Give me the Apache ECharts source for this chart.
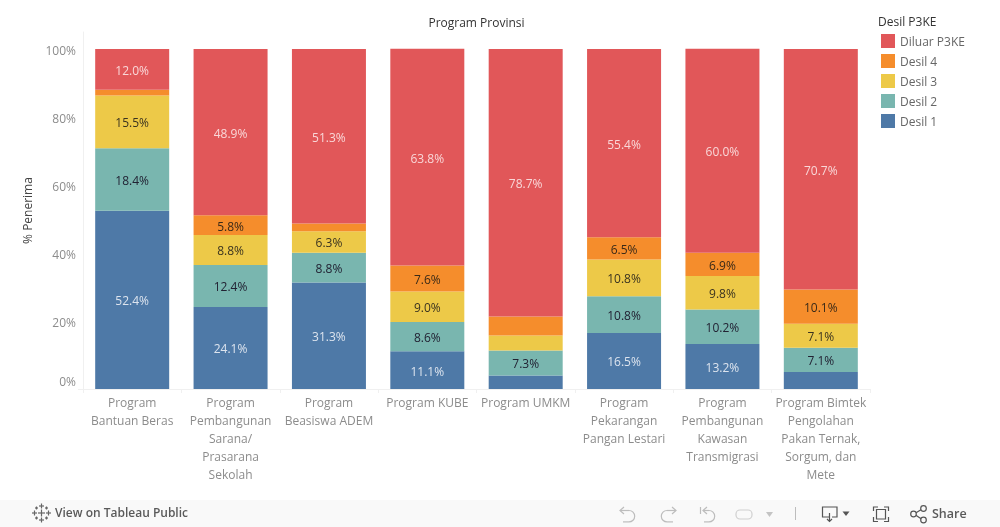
<!DOCTYPE html>
<html>
<head>
<meta charset="utf-8">
<style>html,body{margin:0;padding:0;background:#fff}#c{width:1000px;height:527px}</style>
<script src="https://cdn.jsdelivr.net/npm/echarts@6/dist/echarts.min.js"></script>
</head>
<body>
<div id="c"></div>
<script>
const categories = ['Program\nBantuan Beras','Program\nPembangunan\nSarana/\nPrasarana\nSekolah','Program\nBeasiswa ADEM','Program KUBE','Program UMKM','Program\nPekarangan\nPangan Lestari','Program\nPembangunan\nKawasan\nTransmigrasi','Program Bimtek\nPengolahan\nPakan Ternak,\nSorgum, dan\nMete'];
const desil1 = [52.4,24.1,31.3,11.1,4.0,16.5,13.2,5.0];
const desil2 = [18.4,12.4,8.8,8.6,7.3,10.8,10.2,7.1];
const desil3 = [15.5,8.8,6.3,9.0,4.4,10.8,9.8,7.1];
const desil4 = [1.7,5.8,2.3,7.6,5.6,6.5,6.9,10.1];
const diluar = [12.0,48.9,51.3,63.8,78.7,55.4,60.0,70.7];
const unlabeledDesil1 = [4,7];
const unlabeledDesil3 = [4];
const unlabeledDesil4 = [0,2,4];
const legendOrder = ['Diluar P3KE','Desil 4','Desil 3','Desil 2','Desil 1'];
const FONT = 'Open Sans';
const chart = echarts.init(document.getElementById('c'), null, {renderer:'canvas'});

function series(name, values, color, labelColor, hidden){
  return {
    name, type:'bar', stack:'t', barWidth:74, itemStyle:{color},
    data: values.map((v,i)=>({value:v, label:{show:!(hidden||[]).includes(i)}})),
    label:{show:true, position:'inside', color:labelColor, fontFamily:FONT, fontSize:12, offset:[0,2],
      formatter:p=>p.value.toFixed(1)+'%'}
  };
}
const gray='#bdbdbd';
const line=(pts,c,w)=>({type:'polyline',silent:true,shape:{points:pts},style:{stroke:c||gray,lineWidth:w||1.2,fill:null}});
const arc=(cx,cy,r,a,b,c)=>({type:'arc',silent:true,shape:{cx,cy,r,startAngle:a,endAngle:b,clockwise:true},style:{stroke:c||gray,lineWidth:1.2,fill:null}});
const tri=(x,y,w,h,c)=>({type:'polygon',silent:true,shape:{points:[[x,y],[x+w,y],[x+w/2,y+h]]},style:{fill:c}});
const cross=(x,y,s,c)=>[line([[x-s,y],[x+s,y]],c,1.2),line([[x,y-s],[x,y+s]],c,1.2)];
const dark='#666';
const PI=Math.PI;
const footer=[
  {type:'rect',silent:true,shape:{x:0,y:500,width:1000,height:27},style:{fill:'#f9f9f9'}},
  ...cross(41.5,513,3.5,dark),...cross(41.5,506,2.5,dark),...cross(41.5,520,2.5,dark),
  ...cross(34.5,513,2.5,dark),...cross(48.5,513,2.5,dark),
  ...cross(36.5,508,1.5,dark),...cross(46.5,508,1.5,dark),...cross(36.5,518,1.5,dark),...cross(46.5,518,1.5,dark),
  {type:'text',silent:true,style:{x:55,y:514,text:'View on Tableau Public',fill:'#5a5a5a',font:'600 12px "Open Sans"',textVerticalAlign:'middle'}},
  // undo
  line([[624,507],[620,510.5],[624,514]]),line([[620,510.5],[629,510.5]]),arc(629,516.2,5.7,-PI/2,PI/2),line([[629,521.9],[623,521.9]]),
  // redo
  line([[672,507],[676,510.5],[672,514]]),line([[676,510.5],[667,510.5]]),arc(667,516.2,5.7,PI/2,-PI/2),line([[667,521.9],[673,521.9]]),
  // revert
  line([[700.5,507],[700.5,514]]),line([[707,507],[703,510.5],[707,514]]),line([[703,510.5],[709,510.5]]),arc(709,516.2,5.7,-PI/2,PI/2),line([[709,521.9],[704,521.9]]),
  // refresh
  {type:'rect',silent:true,shape:{x:736,y:510,width:16,height:9,r:4},style:{stroke:'#d0d0d0',lineWidth:1.2,fill:null}},
  tri(766,512,7,5,'#c4c4c4'),
  line([[795.5,507],[795.5,520]],'#bdbdbd',1),
  // download
  line([[829,517],[822.5,517],[822.5,507],[837,507],[837,517],[832,517]],'#555'),line([[829.5,513],[829.5,521]],'#555'),line([[827,519],[829.5,521.5],[832,519]],'#555'),
  tri(842.5,511.5,7,4.5,'#555'),
  // fullscreen
  line([[873.5,511],[873.5,507],[878,507]],'#555'),line([[884,507],[888.5,507],[888.5,511]],'#555'),
  line([[888.5,517],[888.5,521.5],[884,521.5]],'#555'),line([[878,521.5],[873.5,521.5],[873.5,517]],'#555'),
  {type:'rect',silent:true,shape:{x:876.5,y:509.5,width:9,height:9.5},style:{stroke:'#555',lineWidth:1.2,fill:null}},
  // share
  line([[923,508.5],[914,514],[923,520]],'#555'),
  {type:'circle',silent:true,shape:{cx:913.5,cy:514,r:2.8},style:{fill:'#f9f9f9',stroke:'#555',lineWidth:1.2}},
  {type:'circle',silent:true,shape:{cx:923.5,cy:508.5,r:2.8},style:{fill:'#f9f9f9',stroke:'#555',lineWidth:1.2}},
  {type:'circle',silent:true,shape:{cx:923.5,cy:520,r:2.8},style:{fill:'#f9f9f9',stroke:'#555',lineWidth:1.2}},
  {type:'text',silent:true,style:{x:932,y:514,text:'Share',fill:'#5a5a5a',font:'600 12.5px "Open Sans"',textVerticalAlign:'middle'}}
];
chart.setOption({
  animation:false,
  backgroundColor:'#fff',
  textStyle:{fontFamily:FONT},
  title:[
    {text:'Program Provinsi',left:476.5,top:18,padding:0,textAlign:'center',textStyle:{fontFamily:FONT,fontSize:12,fontWeight:'normal',color:'#333'}},
    {text:'Desil P3KE',left:878,top:17,padding:0,textStyle:{fontFamily:FONT,fontSize:12,fontWeight:'normal',color:'#333'}}
  ],
  legend:{
    orient:'vertical',left:881,top:34,padding:0,itemWidth:14,itemHeight:14,itemGap:5,selectedMode:false,
    data:legendOrder.map(name=>({name,icon:'rect'})),
    formatter:n=>'{a|'+n+'}',
    textStyle:{rich:{a:{fontFamily:FONT,fontSize:12,color:'#666',padding:[4,0,0,0]}}}
  },
  grid:{left:83,right:130,top:32,bottom:138,containLabel:false},
  xAxis:{
    type:'category',data:categories,
    axisLine:{show:true,lineStyle:{color:'#f0f0f0',width:1}},
    axisTick:{show:true,length:4,lineStyle:{color:'#f0f0f0'}},
    axisLabel:{color:'#8c8c8c',fontFamily:FONT,fontSize:12,lineHeight:18,interval:0,margin:6,hideOverlap:false}
  },
  yAxis:{
    type:'value',min:0,max:105,interval:20,
    name:'% Penerima',nameLocation:'middle',nameRotate:90,nameGap:48,
    nameTextStyle:{color:'#444',fontFamily:FONT,fontSize:12},
    axisLine:{show:true,lineStyle:{color:'#f0f0f0',width:1}},
    axisTick:{show:true,length:5,customValues:[0],lineStyle:{color:'#f0f0f0'}},
    splitLine:{show:true,showMaxLine:false,showMinLine:false,lineStyle:{color:'#f0f0f0',width:1}},
    axisLabel:{margin:7,verticalAlignMinLabel:'bottom',showMaxLabel:false,
      rich:{a:{color:'#8c8c8c',fontFamily:FONT,fontSize:12,padding:[6,0,0,0]}},
      formatter:v=>v>100?'':'{a|'+v+'%}'}
  },
  series:[
    series('Desil 1',desil1,'#4e79a7','#dde4ee',unlabeledDesil1),
    series('Desil 2',desil2,'#79b6af','#223',[]),
    series('Desil 3',desil3,'#edc948','#3a3320',unlabeledDesil3),
    series('Desil 4',desil4,'#f58d2c','#3a2a18',unlabeledDesil4),
    series('Diluar P3KE',diluar,'#e15759','#f9d7d8',[])
  ],
  graphic:{elements:footer}
});
</script>
</body>
</html>
